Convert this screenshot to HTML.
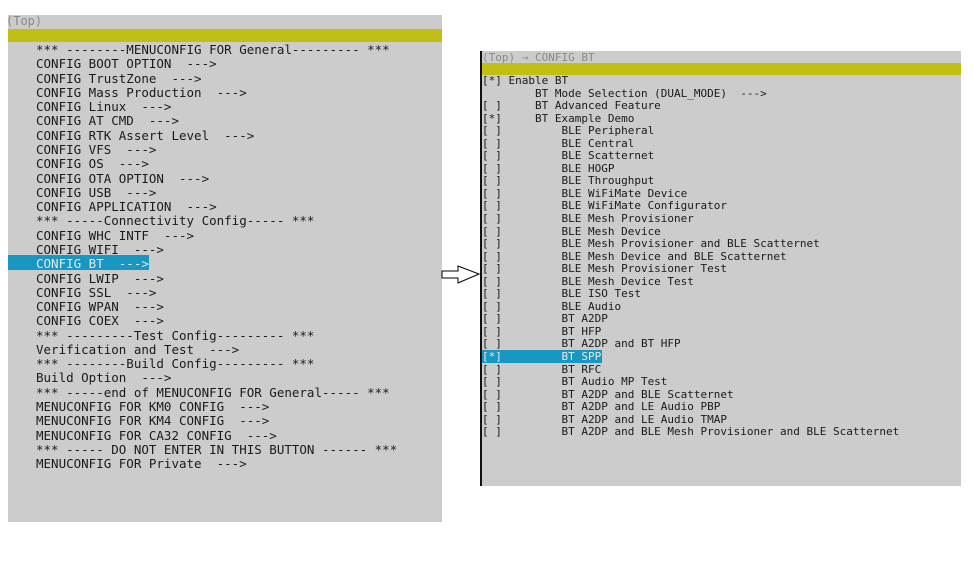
<!DOCTYPE html><html><head><meta charset="utf-8"><style>
body{margin:0;width:973px;height:563px;background:#fff;position:relative;overflow:hidden;font-family:"DejaVu Sans Mono","Liberation Mono",monospace;color:#1a1a1a}
.p{position:absolute;background:#cccccc}
.t{position:absolute;white-space:pre;margin:0}
.y{position:absolute;background:#c0c014}
.h{position:absolute;background:#1797c2}
</style></head><body>
<div class="p" style="left:8px;top:15px;width:434px;height:507px"></div>
<div class="t" style="left:6px;top:14px;font-size:12px;color:#8a8a8a">(Top)</div>
<div class="y" style="left:8px;top:29px;width:434px;height:13px"></div>
<div class="h" style="left:8px;top:255px;width:141px;height:15px"></div>
<pre class="t" style="left:36px;top:43px;font-size:12.5px;line-height:14.28px">*** --------MENUCONFIG FOR General--------- ***
CONFIG BOOT OPTION  --->
CONFIG TrustZone  --->
CONFIG Mass Production  --->
CONFIG Linux  --->
CONFIG AT CMD  --->
CONFIG RTK Assert Level  --->
CONFIG VFS  --->
CONFIG OS  --->
CONFIG OTA OPTION  --->
CONFIG USB  --->
CONFIG APPLICATION  --->
*** -----Connectivity Config----- ***
CONFIG WHC INTF  --->
CONFIG WIFI  --->
<span style="color:#e8e8e8">CONFIG BT  ---></span>
CONFIG LWIP  --->
CONFIG SSL  --->
CONFIG WPAN  --->
CONFIG COEX  --->
*** ---------Test Config--------- ***
Verification and Test  --->
*** --------Build Config--------- ***
Build Option  --->
*** -----end of MENUCONFIG FOR General----- ***
MENUCONFIG FOR KM0 CONFIG  --->
MENUCONFIG FOR KM4 CONFIG  --->
MENUCONFIG FOR CA32 CONFIG  --->
*** ----- DO NOT ENTER IN THIS BUTTON ------ ***
MENUCONFIG FOR Private  ---></pre>

<svg style="position:absolute;left:440px;top:262px" width="42" height="24"><polygon points="2,9 18,9 18,4 39,12 18,21 18,16 2,16" fill="#fff" stroke="#000" stroke-width="1"/></svg>

<div class="p" style="left:480px;top:51px;width:481px;height:435px"></div>
<div style="position:absolute;left:480px;top:51px;width:2px;height:435px;background:#111"></div>
<div class="t" style="left:482px;top:51px;font-size:11px;color:#8a8a8a">(Top) → CONFIG BT</div>
<div class="y" style="left:482px;top:63px;width:479px;height:12px"></div>
<div class="h" style="left:482px;top:350px;width:120px;height:13px"></div>
<pre class="t" style="left:482px;top:75px;font-size:11px;line-height:12.55px">[*] Enable BT
        BT Mode Selection (DUAL_MODE)  --->
[ ]     BT Advanced Feature
[*]     BT Example Demo
[ ]         BLE Peripheral
[ ]         BLE Central
[ ]         BLE Scatternet
[ ]         BLE HOGP
[ ]         BLE Throughput
[ ]         BLE WiFiMate Device
[ ]         BLE WiFiMate Configurator
[ ]         BLE Mesh Provisioner
[ ]         BLE Mesh Device
[ ]         BLE Mesh Provisioner and BLE Scatternet
[ ]         BLE Mesh Device and BLE Scatternet
[ ]         BLE Mesh Provisioner Test
[ ]         BLE Mesh Device Test
[ ]         BLE ISO Test
[ ]         BLE Audio
[ ]         BT A2DP
[ ]         BT HFP
[ ]         BT A2DP and BT HFP
<span style="color:#e8e8e8">[*]         BT SPP</span>
[ ]         BT RFC
[ ]         BT Audio MP Test
[ ]         BT A2DP and BLE Scatternet
[ ]         BT A2DP and LE Audio PBP
[ ]         BT A2DP and LE Audio TMAP
[ ]         BT A2DP and BLE Mesh Provisioner and BLE Scatternet</pre>
</body></html>
